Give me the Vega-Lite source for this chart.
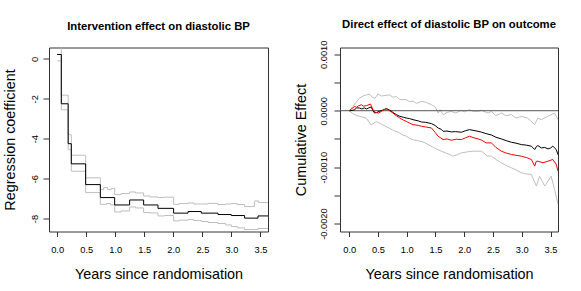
{
"$schema": "https://vega.github.io/schema/vega-lite/v6.json",
"background": "white",
"padding": {"left": 1, "top": 17.5, "right": 5, "bottom": 0},
"bounds": "flush",
"spacing": 72,
"config": {
  "font": "Liberation Sans",
  "view": {"stroke": "#333", "strokeWidth": 1},
  "axis": {"grid": false, "domain": false, "tickColor": "#333", "tickSize": 5, "labelFont": "Liberation Sans", "labelFontSize": 9.3, "labelColor": "#000", "titleFont": "Liberation Sans", "titleFontSize": 14.4, "titleFontWeight": "normal", "titleColor": "#000", "labelOverlap": false, "labelFlush": false},
  "title": {"font": "Liberation Sans", "fontSize": 11.3, "fontWeight": "bold", "color": "#000"}
},
"datasets": {
  "left": [
    {"s":"est","x":0,"y":0.22},{"s":"est","x":0.072,"y":-2.25},{"s":"est","x":0.19,"y":-4.25},{"s":"est","x":0.244,"y":-5.26},{"s":"est","x":0.491,"y":-6.3},{"s":"est","x":0.744,"y":-6.95},{"s":"est","x":0.99,"y":-7.32},{"s":"est","x":1.248,"y":-7.07},{"s":"est","x":1.489,"y":-7.32},{"s":"est","x":1.736,"y":-7.49},{"s":"est","x":2.005,"y":-7.73},{"s":"est","x":2.253,"y":-7.65},{"s":"est","x":2.482,"y":-7.73},{"s":"est","x":2.769,"y":-7.8},{"s":"est","x":2.998,"y":-7.85},{"s":"est","x":3.227,"y":-7.98},{"s":"est","x":3.458,"y":-7.87},{"s":"est","x":3.63,"y":-7.87},
    {"s":"upper","x":0,"y":0.7},{"s":"upper","x":0.072,"y":-1.82},{"s":"upper","x":0.19,"y":-3.8},{"s":"upper","x":0.244,"y":-4.83},{"s":"upper","x":0.491,"y":-5.96},{"s":"upper","x":0.744,"y":-6.55},{"s":"upper","x":0.8,"y":-6.45},{"s":"upper","x":0.87,"y":-6.55},{"s":"upper","x":0.93,"y":-6.5},{"s":"upper","x":0.99,"y":-6.8},{"s":"upper","x":1.1,"y":-6.75},{"s":"upper","x":1.248,"y":-6.67},{"s":"upper","x":1.35,"y":-6.72},{"s":"upper","x":1.489,"y":-6.87},{"s":"upper","x":1.6,"y":-6.92},{"s":"upper","x":1.736,"y":-6.95},{"s":"upper","x":1.85,"y":-6.93},{"s":"upper","x":2.005,"y":-7.29},{"s":"upper","x":2.1,"y":-7.25},{"s":"upper","x":2.253,"y":-7.22},{"s":"upper","x":2.35,"y":-7.27},{"s":"upper","x":2.482,"y":-7.27},{"s":"upper","x":2.6,"y":-7.24},{"s":"upper","x":2.769,"y":-7.3},{"s":"upper","x":2.9,"y":-7.27},{"s":"upper","x":2.998,"y":-7.25},{"s":"upper","x":3.1,"y":-7.3},{"s":"upper","x":3.227,"y":-7.4},{"s":"upper","x":3.4,"y":-7.12},{"s":"upper","x":3.47,"y":-7.2},{"s":"upper","x":3.63,"y":-7.22},
    {"s":"lower","x":0,"y":-0.1},{"s":"lower","x":0.072,"y":-2.55},{"s":"lower","x":0.19,"y":-4.55},{"s":"lower","x":0.244,"y":-5.63},{"s":"lower","x":0.491,"y":-6.7},{"s":"lower","x":0.744,"y":-7.29},{"s":"lower","x":0.85,"y":-7.25},{"s":"lower","x":0.92,"y":-7.32},{"s":"lower","x":0.99,"y":-7.67},{"s":"lower","x":1.1,"y":-7.62},{"s":"lower","x":1.248,"y":-7.42},{"s":"lower","x":1.35,"y":-7.47},{"s":"lower","x":1.489,"y":-7.7},{"s":"lower","x":1.6,"y":-7.72},{"s":"lower","x":1.736,"y":-7.87},{"s":"lower","x":1.85,"y":-7.85},{"s":"lower","x":2.005,"y":-8.12},{"s":"lower","x":2.1,"y":-8.08},{"s":"lower","x":2.253,"y":-8.05},{"s":"lower","x":2.35,"y":-8.1},{"s":"lower","x":2.482,"y":-8.15},{"s":"lower","x":2.6,"y":-8.2},{"s":"lower","x":2.769,"y":-8.25},{"s":"lower","x":2.9,"y":-8.32},{"s":"lower","x":2.998,"y":-8.4},{"s":"lower","x":3.1,"y":-8.47},{"s":"lower","x":3.227,"y":-8.55},{"s":"lower","x":3.458,"y":-8.5},{"s":"lower","x":3.63,"y":-8.5}
  ],
  "right": [
    {"s":"zero","x":-0.16,"y":0},{"s":"zero","x":3.63,"y":0},
    {"s":"est","x":0,"y":0},{"s":"est","x":0.05,"y":0.000005},{"s":"est","x":0.094,"y":0.000018},{"s":"est","x":0.13,"y":0.00005},{"s":"est","x":0.18,"y":0.000047},{"s":"est","x":0.22,"y":0.00003},{"s":"est","x":0.26,"y":0.00005},{"s":"est","x":0.3,"y":0.00003},{"s":"est","x":0.34,"y":0.00005},{"s":"est","x":0.38,"y":0.000065},{"s":"est","x":0.41,"y":0.00001},{"s":"est","x":0.44,"y":-0.000041},{"s":"est","x":0.48,"y":-0.00003},{"s":"est","x":0.52,"y":-0.000012},{"s":"est","x":0.58,"y":0.00001},{"s":"est","x":0.64,"y":0.000035},{"s":"est","x":0.67,"y":0.00003},{"s":"est","x":0.72,"y":0},{"s":"est","x":0.76,"y":-0.00003},{"s":"est","x":0.82,"y":-0.00007},{"s":"est","x":0.88,"y":-0.0001},{"s":"est","x":0.94,"y":-0.000115},{"s":"est","x":0.99,"y":-0.000129},{"s":"est","x":1.05,"y":-0.00014},{"s":"est","x":1.11,"y":-0.000159},{"s":"est","x":1.2,"y":-0.00018},{"s":"est","x":1.257,"y":-0.0002},{"s":"est","x":1.33,"y":-0.000205},{"s":"est","x":1.431,"y":-0.000229},{"s":"est","x":1.49,"y":-0.00026},{"s":"est","x":1.546,"y":-0.000306},{"s":"est","x":1.6,"y":-0.00033},{"s":"est","x":1.632,"y":-0.000365},{"s":"est","x":1.7,"y":-0.00036},{"s":"est","x":1.777,"y":-0.000376},{"s":"est","x":1.85,"y":-0.00037},{"s":"est","x":1.95,"y":-0.000382},{"s":"est","x":2.02,"y":-0.000355},{"s":"est","x":2.09,"y":-0.000335},{"s":"est","x":2.17,"y":-0.00035},{"s":"est","x":2.24,"y":-0.000365},{"s":"est","x":2.3,"y":-0.00038},{"s":"est","x":2.38,"y":-0.000406},{"s":"est","x":2.472,"y":-0.00043},{"s":"est","x":2.55,"y":-0.00047},{"s":"est","x":2.646,"y":-0.0005},{"s":"est","x":2.73,"y":-0.00053},{"s":"est","x":2.82,"y":-0.000559},{"s":"est","x":2.9,"y":-0.000575},{"s":"est","x":2.993,"y":-0.0006},{"s":"est","x":3.08,"y":-0.00061},{"s":"est","x":3.167,"y":-0.000629},{"s":"est","x":3.225,"y":-0.000688},{"s":"est","x":3.25,"y":-0.00064},{"s":"est","x":3.28,"y":-0.000618},{"s":"est","x":3.34,"y":-0.000659},{"s":"est","x":3.4,"y":-0.00065},{"s":"est","x":3.456,"y":-0.000677},{"s":"est","x":3.5,"y":-0.00066},{"s":"est","x":3.54,"y":-0.000629},{"s":"est","x":3.6,"y":-0.000688},{"s":"est","x":3.63,"y":-0.00078},
    {"s":"red","x":0,"y":0},{"s":"red","x":0.05,"y":0.00004},{"s":"red","x":0.094,"y":0.000076},{"s":"red","x":0.13,"y":0.00006},{"s":"red","x":0.16,"y":0.000085},{"s":"red","x":0.21,"y":0.000106},{"s":"red","x":0.25,"y":0.00008},{"s":"red","x":0.3,"y":0.00009},{"s":"red","x":0.37,"y":0.000118},{"s":"red","x":0.42,"y":0.000006},{"s":"red","x":0.46,"y":-0.00003},{"s":"red","x":0.51,"y":-0.000041},{"s":"red","x":0.57,"y":-0.000005},{"s":"red","x":0.64,"y":0.000035},{"s":"red","x":0.7,"y":0},{"s":"red","x":0.76,"y":-0.000041},{"s":"red","x":0.82,"y":-0.00009},{"s":"red","x":0.88,"y":-0.000129},{"s":"red","x":0.94,"y":-0.000165},{"s":"red","x":0.99,"y":-0.000188},{"s":"red","x":1.05,"y":-0.00022},{"s":"red","x":1.11,"y":-0.000247},{"s":"red","x":1.2,"y":-0.00026},{"s":"red","x":1.257,"y":-0.000276},{"s":"red","x":1.34,"y":-0.00029},{"s":"red","x":1.431,"y":-0.000306},{"s":"red","x":1.49,"y":-0.00038},{"s":"red","x":1.546,"y":-0.000453},{"s":"red","x":1.59,"y":-0.00048},{"s":"red","x":1.632,"y":-0.000512},{"s":"red","x":1.7,"y":-0.0005},{"s":"red","x":1.777,"y":-0.000523},{"s":"red","x":1.86,"y":-0.000505},{"s":"red","x":1.95,"y":-0.000512},{"s":"red","x":2.02,"y":-0.00048},{"s":"red","x":2.09,"y":-0.000453},{"s":"red","x":2.17,"y":-0.00048},{"s":"red","x":2.24,"y":-0.0005},{"s":"red","x":2.3,"y":-0.00052},{"s":"red","x":2.38,"y":-0.00057},{"s":"red","x":2.472,"y":-0.00057},{"s":"red","x":2.55,"y":-0.00065},{"s":"red","x":2.646,"y":-0.000717},{"s":"red","x":2.73,"y":-0.00075},{"s":"red","x":2.82,"y":-0.000776},{"s":"red","x":2.9,"y":-0.00079},{"s":"red","x":2.993,"y":-0.000806},{"s":"red","x":3.08,"y":-0.00083},{"s":"red","x":3.167,"y":-0.000864},{"s":"red","x":3.225,"y":-0.000982},{"s":"red","x":3.25,"y":-0.0009},{"s":"red","x":3.28,"y":-0.000894},{"s":"red","x":3.369,"y":-0.000923},{"s":"red","x":3.456,"y":-0.000894},{"s":"red","x":3.54,"y":-0.000864},{"s":"red","x":3.6,"y":-0.000952},{"s":"red","x":3.63,"y":-0.00107},
    {"s":"upper","x":0,"y":0},{"s":"upper","x":0.065,"y":0.000076},{"s":"upper","x":0.12,"y":0.00015},{"s":"upper","x":0.18,"y":0.000223},{"s":"upper","x":0.24,"y":0.00026},{"s":"upper","x":0.3,"y":0.000282},{"s":"upper","x":0.36,"y":0.00029},{"s":"upper","x":0.4,"y":0.00024},{"s":"upper","x":0.45,"y":0.00022},{"s":"upper","x":0.5,"y":0.0003},{"s":"upper","x":0.56,"y":0.00026},{"s":"upper","x":0.62,"y":0.00027},{"s":"upper","x":0.7,"y":0.00028},{"s":"upper","x":0.76,"y":0.00024},{"s":"upper","x":0.82,"y":0.00025},{"s":"upper","x":0.88,"y":0.0002},{"s":"upper","x":0.99,"y":0.000194},{"s":"upper","x":1.05,"y":0.00016},{"s":"upper","x":1.11,"y":0.00017},{"s":"upper","x":1.17,"y":0.00013},{"s":"upper","x":1.257,"y":0.000165},{"s":"upper","x":1.33,"y":0.00015},{"s":"upper","x":1.431,"y":0.000106},{"s":"upper","x":1.5,"y":0.00006},{"s":"upper","x":1.546,"y":-0.000041},{"s":"upper","x":1.58,"y":0.00002},{"s":"upper","x":1.632,"y":-0.000071},{"s":"upper","x":1.7,"y":-0.00003},{"s":"upper","x":1.777,"y":-0.000012},{"s":"upper","x":1.85,"y":-0.00004},{"s":"upper","x":1.95,"y":0.000006},{"s":"upper","x":2.0,"y":-0.00002},{"s":"upper","x":2.09,"y":0.000018},{"s":"upper","x":2.15,"y":-0.00001},{"s":"upper","x":2.24,"y":-0.000012},{"s":"upper","x":2.3,"y":0.000006},{"s":"upper","x":2.414,"y":-0.000041},{"s":"upper","x":2.472,"y":-0.000012},{"s":"upper","x":2.55,"y":-0.000088},{"s":"upper","x":2.65,"y":-0.000041},{"s":"upper","x":2.72,"y":-0.000088},{"s":"upper","x":2.82,"y":-0.00007},{"s":"upper","x":2.9,"y":-0.000129},{"s":"upper","x":3.0,"y":-0.0001},{"s":"upper","x":3.1,"y":-0.00013},{"s":"upper","x":3.225,"y":-0.000247},{"s":"upper","x":3.28,"y":-0.000129},{"s":"upper","x":3.34,"y":-0.000159},{"s":"upper","x":3.45,"y":-0.0001},{"s":"upper","x":3.57,"y":-0.000041},{"s":"upper","x":3.63,"y":-0.000159},
    {"s":"lower","x":0,"y":0},{"s":"lower","x":0.065,"y":-0.000053},{"s":"lower","x":0.12,"y":-0.00008},{"s":"lower","x":0.18,"y":-0.0001},{"s":"lower","x":0.24,"y":-0.000115},{"s":"lower","x":0.3,"y":-0.000135},{"s":"lower","x":0.38,"y":-0.000253},{"s":"lower","x":0.43,"y":-0.00022},{"s":"lower","x":0.47,"y":-0.000194},{"s":"lower","x":0.55,"y":-0.00023},{"s":"lower","x":0.62,"y":-0.00027},{"s":"lower","x":0.7,"y":-0.000312},{"s":"lower","x":0.77,"y":-0.00035},{"s":"lower","x":0.85,"y":-0.00038},{"s":"lower","x":0.93,"y":-0.00043},{"s":"lower","x":0.99,"y":-0.00045},{"s":"lower","x":1.05,"y":-0.00049},{"s":"lower","x":1.13,"y":-0.00052},{"s":"lower","x":1.2,"y":-0.00053},{"s":"lower","x":1.3,"y":-0.00056},{"s":"lower","x":1.37,"y":-0.0006},{"s":"lower","x":1.45,"y":-0.00064},{"s":"lower","x":1.52,"y":-0.00068},{"s":"lower","x":1.6,"y":-0.000717},{"s":"lower","x":1.68,"y":-0.00075},{"s":"lower","x":1.75,"y":-0.000776},{"s":"lower","x":1.8,"y":-0.000806},{"s":"lower","x":1.88,"y":-0.00078},{"s":"lower","x":1.95,"y":-0.000747},{"s":"lower","x":2.05,"y":-0.00073},{"s":"lower","x":2.15,"y":-0.000717},{"s":"lower","x":2.3,"y":-0.000717},{"s":"lower","x":2.4,"y":-0.0008},{"s":"lower","x":2.472,"y":-0.000806},{"s":"lower","x":2.56,"y":-0.00087},{"s":"lower","x":2.646,"y":-0.000923},{"s":"lower","x":2.73,"y":-0.00097},{"s":"lower","x":2.82,"y":-0.001011},{"s":"lower","x":2.9,"y":-0.00105},{"s":"lower","x":2.993,"y":-0.0011},{"s":"lower","x":3.08,"y":-0.00112},{"s":"lower","x":3.167,"y":-0.00113},{"s":"lower","x":3.254,"y":-0.001335},{"s":"lower","x":3.31,"y":-0.001159},{"s":"lower","x":3.398,"y":-0.001335},{"s":"lower","x":3.456,"y":-0.001247},{"s":"lower","x":3.51,"y":-0.001159},{"s":"lower","x":3.57,"y":-0.001394},{"s":"lower","x":3.63,"y":-0.001658}
  ]
},
"hconcat": [
  {
    "width": 219, "height": 184,
    "title": {"text": "Intervention effect on diastolic BP", "anchor": "middle", "baseline": "alphabetic", "offset": 5.8},
    "data": {"name": "left"},
    "encoding": {
      "x": {"field": "x", "type": "quantitative", "scale": {"domain": [-0.14, 3.63], "nice": false, "zero": false},
            "axis": {"values": [0,0.5,1,1.5,2,2.5,3,3.5], "format": ".1f", "labelOverlap": false, "title": "Years since randomisation", "labelPadding": 13, "labelBaseline": "middle", "titleX": 109.5, "titleY": 46.5, "titleBaseline": "alphabetic", "titleAlign": "center"}},
      "y": {"field": "y", "type": "quantitative", "scale": {"domain": [-8.65, 0.57], "nice": false, "zero": false},
            "axis": {"values": [0,-2,-4,-6,-8], "labelOverlap": false, "labelExpr": "replace(datum.label, '\u2212', '-')", "labelAngle": -90, "labelAlign": "center", "labelBaseline": "middle", "tickSize": 6, "labelPadding": 8.8, "title": "Regression coefficient", "titleX": -35, "titleY": 92, "titleAngle": -90, "titleBaseline": "alphabetic", "titleAlign": "center"}}
    },
    "layer": [
      {"transform": [{"filter": "datum.s === 'upper'"}],
       "mark": {"type": "line", "interpolate": "step-after", "color": "#BEBEBE", "strokeWidth": 1, "clip": true}},
      {"transform": [{"filter": "datum.s === 'lower'"}],
       "mark": {"type": "line", "interpolate": "step-after", "color": "#BEBEBE", "strokeWidth": 1, "clip": true}},
      {"transform": [{"filter": "datum.s === 'est'"}],
       "mark": {"type": "line", "interpolate": "step-after", "color": "#000000", "strokeWidth": 1, "clip": true}}
    ]
  },
  {
    "width": 218, "height": 184,
    "title": {"text": "Direct effect of diastolic BP on outcome", "anchor": "middle", "baseline": "alphabetic", "offset": 0.8},
    "data": {"name": "right"},
    "encoding": {
      "x": {"field": "x", "type": "quantitative", "scale": {"domain": [-0.16, 3.63], "nice": false, "zero": false},
            "axis": {"values": [0,0.5,1,1.5,2,2.5,3,3.5], "format": ".1f", "labelOverlap": false, "title": "Years since randomisation", "labelPadding": 13, "labelBaseline": "middle", "titleX": 109, "titleY": 46.5, "titleBaseline": "alphabetic", "titleAlign": "center"}},
      "y": {"field": "y", "type": "quantitative", "scale": {"domain": [-0.00214, 0.00112], "nice": false, "zero": false},
            "axis": {"values": [0.001,0.0005,0,-0.0005,-0.001,-0.0015,-0.002], "labelOverlap": false, "labelExpr": "abs(datum.value*1000 - round(datum.value*1000)) < 0.001 ? replace(format(datum.value, '.4f'), '\u2212', '-') : ''", "labelAngle": -90, "labelAlign": "center", "labelBaseline": "middle", "tickSize": 6, "labelPadding": 10.5, "title": "Cumulative Effect", "titleX": -35, "titleY": 92, "titleAngle": -90, "titleBaseline": "alphabetic", "titleAlign": "center"}}
    },
    "layer": [
      {"transform": [{"filter": "datum.s === 'upper'"}],
       "mark": {"type": "line", "color": "#BEBEBE", "strokeWidth": 1, "clip": true}},
      {"transform": [{"filter": "datum.s === 'lower'"}],
       "mark": {"type": "line", "color": "#BEBEBE", "strokeWidth": 1, "clip": true}},
      {"transform": [{"filter": "datum.s === 'zero'"}],
       "mark": {"type": "line", "color": "#555555", "strokeWidth": 1, "clip": true}},
      {"transform": [{"filter": "datum.s === 'est'"}],
       "mark": {"type": "line", "color": "#000000", "strokeWidth": 1, "clip": true}},
      {"transform": [{"filter": "datum.s === 'red'"}],
       "mark": {"type": "line", "color": "#FF0000", "strokeWidth": 1, "clip": true}}
    ]
  }
]
}
